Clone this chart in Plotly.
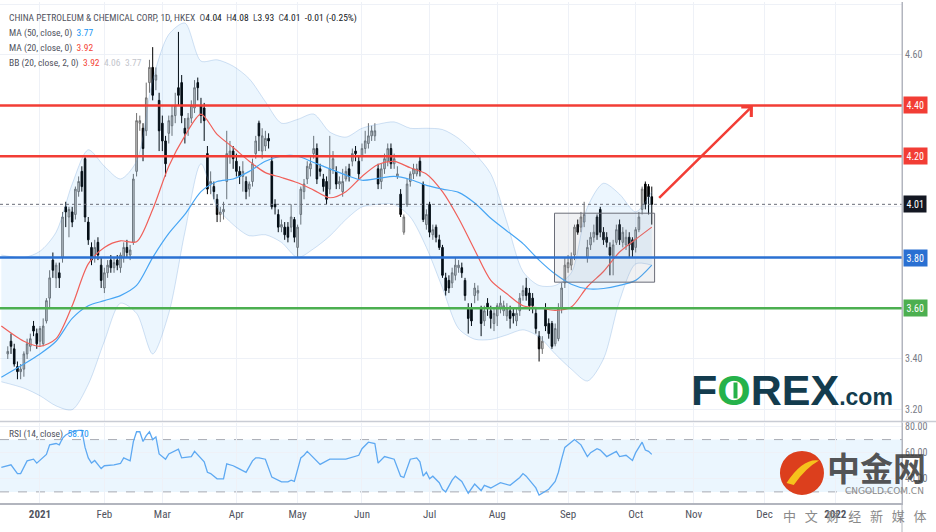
import pandas as pd
import plotly.graph_objects as go

# ---------------- data ----------------
holidays = ["2020-12-25", "2021-01-01", "2021-02-12", "2021-02-15", "2021-04-02", "2021-04-05",
            "2021-04-06", "2021-05-19", "2021-06-14", "2021-07-01", "2021-09-22", "2021-10-01",
            "2021-10-13", "2021-10-14", "2021-12-27"]

dates = [d.strftime("%Y-%m-%d") for d in pd.bdate_range("2020-12-17", "2021-10-11")
         if d.strftime("%Y-%m-%d") not in holidays]

open_ = [
    3.42, 3.47, 3.44, 3.37, 3.35, 3.36, 3.42, 3.45, 3.53, 3.50,
    3.47, 3.46, 3.55, 3.64, 3.79, 3.72, 3.74, 3.80, 4.00, 3.96, 3.98, 3.97, 4.06, 4.14, 4.19, 3.94, 3.84, 3.80, 3.86, 3.77,
    3.68, 3.74, 3.79, 3.76, 3.79, 3.76, 3.80, 3.84, 3.81, 3.86, 4.14, 4.33, 4.31, 4.30, 4.49, 4.55, 4.50, 4.42,
    4.33, 4.26, 4.29, 4.32, 4.36, 4.47, 4.49, 4.31, 4.31, 4.35, 4.39, 4.49, 4.40, 4.39, 4.21, 4.09, 4.08, 4.03, 3.97, 3.98, 4.10, 4.20, 4.22,
    4.18, 4.14, 4.12, 4.10, 4.07, 4.10, 4.21, 4.33, 4.22, 4.24, 4.27, 4.18, 4.01, 3.97, 3.92, 3.92, 3.92, 3.92, 3.95,
    3.84, 3.97, 4.06, 4.11, 4.15, 4.21, 4.23, 4.15, 4.11, 4.10, 4.07, 4.15, 4.14, 4.09, 4.06, 4.11, 4.15, 4.18, 4.22, 4.18,
    4.20, 4.23, 4.25, 4.28, 4.28, 4.15, 4.10, 4.15, 4.18, 4.23, 4.17, 4.12, 4.05, 3.90, 4.01, 4.10, 4.13, 4.13, 4.18, 4.09, 3.93,
    4.01, 3.89, 3.92, 3.87, 3.84, 3.72, 3.71, 3.70, 3.73, 3.76, 3.76, 3.71, 3.60, 3.60, 3.65, 3.66, 3.60, 3.55, 3.62, 3.59, 3.54,
    3.57, 3.60, 3.59, 3.57, 3.59, 3.58, 3.55, 3.59, 3.65, 3.68, 3.66, 3.64, 3.58, 3.49, 3.44, 3.60, 3.54, 3.54, 3.46, 3.48, 3.60, 3.70,
    3.76, 3.77, 3.81, 3.93, 3.92, 3.94, 3.80, 3.85, 3.88, 3.96, 3.99, 3.90, 3.88, 3.84, 3.80, 3.86, 3.93, 3.86, 3.85, 3.88, 3.87,
    3.84, 3.91, 3.99, 4.09, 4.08, 4.04,
]
high = [
    3.45, 3.50, 3.46, 3.39, 3.38, 3.43, 3.48, 3.50, 3.55, 3.52,
    3.53, 3.56, 3.64, 3.75, 3.82, 3.78, 3.78, 3.98, 4.02, 4.00, 4.00, 4.08, 4.12, 4.16, 4.20, 3.96, 3.86, 3.87, 3.88, 3.80,
    3.76, 3.79, 3.81, 3.80, 3.81, 3.82, 3.86, 3.87, 3.85, 4.13, 4.37, 4.36, 4.33, 4.49, 4.58, 4.63, 4.55, 4.45,
    4.36, 4.28, 4.36, 4.40, 4.45, 4.69, 4.52, 4.35, 4.37, 4.42, 4.50, 4.51, 4.43, 4.41, 4.24, 4.14, 4.10, 4.05, 4.00, 4.02, 4.30, 4.26, 4.24,
    4.21, 4.16, 4.18, 4.12, 4.10, 4.19, 4.28, 4.34, 4.31, 4.30, 4.29, 4.20, 4.03, 3.99, 3.95, 3.94, 3.94, 4.01, 3.96,
    3.93, 4.08, 4.11, 4.18, 4.20, 4.28, 4.25, 4.17, 4.13, 4.12, 4.28, 4.22, 4.16, 4.12, 4.15, 4.16, 4.17, 4.23, 4.24, 4.20,
    4.25, 4.30, 4.33, 4.32, 4.33, 4.17, 4.17, 4.21, 4.25, 4.25, 4.21, 4.16, 4.07, 3.97, 4.11, 4.14, 4.17, 4.17, 4.20, 4.10, 3.99,
    4.02, 3.93, 3.93, 3.89, 3.85, 3.74, 3.73, 3.76, 3.80, 3.79, 3.78, 3.72, 3.62, 3.62, 3.70, 3.69, 3.61, 3.61, 3.64, 3.61, 3.60,
    3.62, 3.65, 3.63, 3.62, 3.61, 3.60, 3.60, 3.66, 3.69, 3.72, 3.68, 3.66, 3.60, 3.51, 3.49, 3.62, 3.56, 3.55, 3.54, 3.62, 3.70, 3.80,
    3.81, 3.82, 3.93, 3.95, 3.98, 4.02, 3.87, 3.90, 3.93, 3.97, 4.00, 3.92, 3.90, 3.86, 3.87, 3.93, 3.95, 3.92, 3.91, 3.90, 3.88,
    3.92, 3.98, 4.08, 4.10, 4.09, 4.08,
]
low = [
    3.40, 3.42, 3.37, 3.32, 3.32, 3.33, 3.40, 3.43, 3.49, 3.44,
    3.45, 3.45, 3.54, 3.60, 3.72, 3.68, 3.68, 3.78, 3.92, 3.88, 3.92, 3.95, 4.04, 4.06, 3.94, 3.85, 3.77, 3.78, 3.79, 3.68,
    3.66, 3.72, 3.74, 3.74, 3.75, 3.74, 3.78, 3.80, 3.79, 3.85, 4.12, 4.30, 4.18, 4.28, 4.45, 4.42, 4.46, 4.22,
    4.22, 4.12, 4.25, 4.28, 4.33, 4.40, 4.33, 4.25, 4.28, 4.33, 4.37, 4.42, 4.33, 4.26, 4.05, 4.05, 4.03, 3.94, 3.94, 3.95, 4.03, 4.17, 4.15,
    4.12, 4.09, 4.06, 4.03, 4.04, 4.08, 4.19, 4.22, 4.19, 4.22, 4.23, 3.99, 3.97, 3.90, 3.90, 3.87, 3.86, 3.90, 3.86,
    3.80, 3.93, 4.03, 4.09, 4.12, 4.19, 4.09, 4.12, 4.06, 4.01, 4.05, 4.13, 4.07, 4.07, 4.04, 4.10, 4.10, 4.16, 4.18, 4.11,
    4.18, 4.21, 4.23, 4.26, 4.26, 4.07, 4.07, 4.13, 4.16, 4.15, 4.15, 4.11, 3.96, 3.89, 4.00, 4.08, 4.11, 4.12, 4.12, 3.94, 3.91,
    3.88, 3.87, 3.86, 3.83, 3.72, 3.65, 3.66, 3.68, 3.71, 3.74, 3.72, 3.63, 3.50, 3.53, 3.62, 3.63, 3.49, 3.53, 3.57, 3.52, 3.51,
    3.53, 3.58, 3.57, 3.55, 3.52, 3.54, 3.53, 3.57, 3.63, 3.63, 3.59, 3.58, 3.50, 3.39, 3.42, 3.51, 3.48, 3.44, 3.45, 3.47, 3.58, 3.68,
    3.74, 3.75, 3.79, 3.89, 3.90, 3.92, 3.78, 3.83, 3.86, 3.87, 3.88, 3.85, 3.84, 3.73, 3.73, 3.85, 3.85, 3.84, 3.83, 3.80, 3.80,
    3.82, 3.90, 3.97, 3.99, 3.97, 3.93,
]
close = [
    3.43, 3.45, 3.38, 3.35, 3.36, 3.42, 3.46, 3.48, 3.51, 3.46,
    3.52, 3.53, 3.63, 3.72, 3.75, 3.77, 3.72, 3.96, 3.98, 3.99, 3.94, 4.07, 4.10, 4.08, 3.96, 3.87, 3.79, 3.84, 3.81, 3.71,
    3.74, 3.77, 3.76, 3.78, 3.77, 3.81, 3.84, 3.82, 3.83, 4.11, 4.34, 4.34, 4.23, 4.43, 4.55, 4.44, 4.52, 4.30,
    4.26, 4.17, 4.34, 4.36, 4.40, 4.44, 4.36, 4.29, 4.35, 4.40, 4.47, 4.47, 4.36, 4.34, 4.07, 4.10, 4.06, 3.97, 3.98, 3.99, 4.21, 4.22, 4.19,
    4.14, 4.12, 4.14, 4.06, 4.09, 4.17, 4.26, 4.28, 4.28, 4.27, 4.26, 4.00, 4.00, 3.92, 3.93, 3.89, 3.88, 3.96, 3.88,
    3.92, 4.07, 4.09, 4.16, 4.17, 4.23, 4.11, 4.14, 4.08, 4.03, 4.15, 4.19, 4.09, 4.10, 4.10, 4.14, 4.12, 4.21, 4.21, 4.13,
    4.23, 4.26, 4.28, 4.30, 4.30, 4.09, 4.15, 4.19, 4.23, 4.17, 4.19, 4.13, 3.97, 3.96, 4.09, 4.13, 4.15, 4.15, 4.14, 3.95, 3.97,
    3.90, 3.91, 3.88, 3.84, 3.73, 3.67, 3.68, 3.74, 3.77, 3.77, 3.74, 3.65, 3.56, 3.55, 3.68, 3.67, 3.54, 3.59, 3.60, 3.56, 3.58,
    3.61, 3.62, 3.61, 3.60, 3.56, 3.57, 3.58, 3.64, 3.67, 3.65, 3.61, 3.61, 3.52, 3.44, 3.47, 3.53, 3.50, 3.45, 3.52, 3.60, 3.68, 3.77,
    3.78, 3.80, 3.92, 3.90, 3.96, 3.97, 3.84, 3.88, 3.90, 3.89, 3.90, 3.87, 3.86, 3.81, 3.85, 3.91, 3.87, 3.90, 3.88, 3.85, 3.83,
    3.91, 3.96, 4.07, 4.01, 4.04, 4.01,
]

ma_dates = ["2020-12-15", "2020-12-24", "2021-01-04", "2021-01-11", "2021-01-18", "2021-01-25", "2021-02-01",
            "2021-02-08", "2021-02-17", "2021-02-24", "2021-03-03", "2021-03-10", "2021-03-17", "2021-03-24",
            "2021-03-31", "2021-04-12", "2021-04-19", "2021-04-26", "2021-05-03", "2021-05-10", "2021-05-17",
            "2021-05-25", "2021-06-01", "2021-06-08", "2021-06-16", "2021-06-23", "2021-06-30", "2021-07-08",
            "2021-07-15", "2021-07-22", "2021-07-29", "2021-08-05", "2021-08-12", "2021-08-19", "2021-08-26",
            "2021-09-02", "2021-09-09", "2021-09-16", "2021-09-24", "2021-10-04", "2021-10-11"]
ma50 = [3.328, 3.38, 3.42, 3.47, 3.56, 3.61, 3.63, 3.65, 3.69, 3.80, 3.895, 3.97, 4.06, 4.10, 4.11, 4.14,
        4.18, 4.20, 4.20, 4.175, 4.15, 4.125, 4.105, 4.112, 4.12, 4.108, 4.085, 4.07, 4.057, 4.015, 3.955,
        3.905, 3.855, 3.79, 3.735, 3.695, 3.677, 3.678, 3.69, 3.71, 3.77]
ma20 = [3.53, 3.47, 3.45, 3.48, 3.61, 3.775, 3.84, 3.866, 3.862, 3.99, 4.16, 4.28, 4.366, 4.286, 4.234, 4.18,
        4.135, 4.116, 4.095, 4.066, 4.036, 4.06, 4.12, 4.167, 4.179, 4.154, 4.13, 4.06, 3.955, 3.83, 3.71,
        3.657, 3.61, 3.602, 3.592, 3.605, 3.685, 3.745, 3.822, 3.872, 3.92]
bb_upper = [3.81, 3.80, 3.825, 3.90, 4.09, 4.225, 4.16, 4.11, 4.18, 4.50, 4.68, 4.725, 4.575, 4.58, 4.555,
            4.505, 4.415, 4.33, 4.345, 4.366, 4.295, 4.275, 4.31, 4.326, 4.335, 4.31, 4.31, 4.305, 4.27, 4.21,
            4.13, 3.94, 3.745, 3.69, 3.69, 3.74, 3.998, 4.093, 4.05, 3.98, 4.06]
bb_lower = [3.31, 3.285, 3.255, 3.215, 3.20, 3.30, 3.47, 3.62, 3.58, 3.42, 3.58, 3.90, 4.17, 4.00, 3.93,
            3.886, 3.89, 3.86, 3.80, 3.835, 3.885, 3.95, 4.00, 4.01, 4.01, 3.96, 3.84, 3.68, 3.52, 3.478,
            3.477, 3.495, 3.515, 3.487, 3.42, 3.36, 3.313, 3.40, 3.63, 3.775, 3.77]

rsi_dates = ["2020-12-15", "2020-12-18", "2020-12-22", "2020-12-23", "2020-12-28", "2020-12-30", "2020-12-31",
             "2021-01-05", "2021-01-06", "2021-01-07", "2021-01-11", "2021-01-12", "2021-01-13", "2021-01-14",
             "2021-01-18", "2021-01-20", "2021-01-21", "2021-01-22", "2021-01-25", "2021-01-26", "2021-01-27",
             "2021-01-29", "2021-02-01", "2021-02-04", "2021-02-08", "2021-02-09", "2021-02-11", "2021-02-16",
             "2021-02-17", "2021-02-18", "2021-02-19", "2021-02-22", "2021-02-23", "2021-02-24", "2021-02-25",
             "2021-02-26", "2021-03-01", "2021-03-02", "2021-03-03", "2021-03-08", "2021-03-09", "2021-03-12",
             "2021-03-15", "2021-03-17", "2021-03-18", "2021-03-19", "2021-03-22", "2021-03-24", "2021-03-26",
             "2021-03-29", "2021-03-30", "2021-03-31", "2021-04-01", "2021-04-08", "2021-04-09", "2021-04-13",
             "2021-04-14", "2021-04-15", "2021-04-19", "2021-04-21", "2021-04-26", "2021-04-28", "2021-04-29",
             "2021-04-30", "2021-05-03", "2021-05-04", "2021-05-05", "2021-05-06", "2021-05-12", "2021-05-17",
             "2021-05-25", "2021-05-31", "2021-06-01", "2021-06-03", "2021-06-07", "2021-06-08", "2021-06-10",
             "2021-06-16", "2021-06-18", "2021-06-21", "2021-06-23", "2021-06-25", "2021-06-28", "2021-06-29",
             "2021-06-30", "2021-07-02", "2021-07-05", "2021-07-07", "2021-07-08", "2021-07-09", "2021-07-13",
             "2021-07-14", "2021-07-16", "2021-07-20", "2021-07-22", "2021-07-26", "2021-07-27", "2021-07-29",
             "2021-08-03", "2021-08-06", "2021-08-11", "2021-08-12", "2021-08-13", "2021-08-16", "2021-08-18",
             "2021-08-19", "2021-08-24", "2021-08-26", "2021-08-27", "2021-08-30", "2021-08-31", "2021-09-03",
             "2021-09-07", "2021-09-09", "2021-09-10", "2021-09-14", "2021-09-15", "2021-09-17", "2021-09-23",
             "2021-09-24", "2021-09-28", "2021-09-30", "2021-10-04", "2021-10-06", "2021-10-07", "2021-10-08",
             "2021-10-11"]
rsi_values = [48.7, 50.7, 44, 44, 53.7, 55, 52,
              56, 58.7, 66, 67, 66, 71, 73.5,
              76, 77, 77, 64, 56, 52, 54,
              47.8, 50, 50.7, 51.7, 56, 53.7, 68.5,
              76, 76, 68.5, 73, 76, 70, 72,
              59, 57, 55, 59, 62.6, 56, 57,
              61, 56, 53, 45, 44, 40, 40,
              51.5, 51, 50, 48.7, 46, 45, 53.7,
              56, 56, 55, 41.3, 37.7, 37.7, 39,
              38, 47, 56, 58, 61, 51, 55,
              55, 58, 63, 68, 67, 52, 57,
              55, 42, 41, 55, 56, 53, 42,
              45, 40, 42, 37, 32, 30, 39,
              42, 38, 29, 36, 31, 35, 33,
              37, 35, 41, 44, 42, 39, 33,
              27.5, 32, 38, 45, 55, 64, 70,
              66, 57, 60, 63, 62, 57, 61,
              57, 58, 54, 60, 68, 62, 61,
              58.7]

tick_dates = ["2021-01-04", "2021-02-01", "2021-03-01", "2021-04-01", "2021-05-03", "2021-06-01", "2021-07-02",
              "2021-08-02", "2021-09-01", "2021-10-04", "2021-11-01", "2021-12-01", "2022-01-03"]
tick_labels = ["<b>2021</b>", "Feb", "Mar", "Apr", "May", "Jun", "Jul", "Aug", "Sep", "Oct", "Nov", "Dec", "<b>2022</b>"]

levels = [4.40, 4.20, 3.80, 3.60]
level_colors = ["#f23d35", "#f23d35", "#2a70d2", "#4caf50"]
last_price = 4.01

# ---------------- figure ----------------
n = min(len(dates), len(open_), len(high), len(low), len(close))
FONT = "Roboto Condensed, Roboto, sans-serif"
x_range = ["2020-12-14 14:00", "2022-01-31 17:00"]
rbreaks = [dict(bounds=["sat", "mon"]), dict(values=holidays)]

fig = go.Figure()
band_line = dict(color="rgba(110,160,215,0.3)", width=1, shape="spline", smoothing=0.8)
fig.add_trace(go.Scatter(x=ma_dates, y=bb_upper, mode="lines", line=band_line, hoverinfo="skip"))
fig.add_trace(go.Scatter(x=ma_dates, y=bb_lower, mode="lines", line=band_line, fill="tonexty",
                         fillcolor="rgba(33,150,243,0.085)", hoverinfo="skip"))
fig.add_trace(go.Candlestick(
    x=dates[:n], open=open_[:n], high=high[:n], low=low[:n], close=close[:n],
    increasing=dict(line=dict(color="#707070", width=1), fillcolor="#d2d2d2"),
    decreasing=dict(line=dict(color="#000000", width=1), fillcolor="#000000"),
    whiskerwidth=0, hoverinfo="skip"))
fig.add_trace(go.Scatter(x=ma_dates, y=ma20, mode="lines",
                         line=dict(color="#f0605a", width=1.2, shape="spline", smoothing=0.8)))
fig.add_trace(go.Scatter(x=ma_dates, y=ma50, mode="lines",
                         line=dict(color="#48a6f4", width=1.2, shape="spline", smoothing=0.8)))
fig.add_trace(go.Scatter(x=rsi_dates, y=rsi_values, mode="lines", xaxis="x2", yaxis="y2",
                         line=dict(color="#5ea9f2", width=1.3)))

shapes = []
shapes.append(dict(type="rect", xref="x2 domain", yref="y2", x0=0, x1=1, y0=30, y1=70,
                   fillcolor="rgba(33,150,243,0.09)", line=dict(width=0), layer="below"))
for lv in (30, 70):
    shapes.append(dict(type="line", xref="x2 domain", yref="y2", x0=0, x1=1, y0=lv, y1=lv,
                       line=dict(color="#a8abb3", width=1, dash="dash"), layer="below"))
shapes.append(dict(type="line", xref="x domain", yref="y", x0=0, x1=1, y0=last_price, y1=last_price,
                   line=dict(color="#6a6d78", width=1, dash="dot")))
shapes.append(dict(type="rect", xref="x", yref="y", x0="2021-08-25 19:00", x1="2021-10-11 21:00",
                   y0=3.703, y1=3.975, fillcolor="rgba(140,145,160,0.13)",
                   line=dict(color="#6a6d78", width=1)))
for lv, col in zip(levels, level_colors):
    shapes.append(dict(type="line", xref="x domain", yref="y", x0=0, x1=1, y0=lv, y1=lv,
                       line=dict(color=col, width=2.5)))
shapes.append(dict(type="line", xref="paper", yref="paper", x0=0, x1=1.04, y0=0.1625, y1=0.1625,
                   line=dict(color="#c9ccd4", width=1.5)))
shapes.append(dict(type="line", xref="paper", yref="paper", x0=1, x1=1, y0=-0.06, y1=1,
                   line=dict(color="#b2b5be", width=1)))
# watermark circle logo
shapes.append(dict(type="circle", xref="paper", yref="paper", x0=0.8647, x1=0.9135, y0=0.016, y1=0.104,
                   fillcolor="#dc3f1d", line=dict(width=0)))
shapes.append(dict(type="path", xref="paper", yref="paper",
                   path="M 0.872,0.040 Q 0.890,0.090 0.908,0.085 Q 0.893,0.070 0.880,0.036 Z",
                   fillcolor="#f6c21c", line=dict(width=0)))
# bar inside the green "O" of the FOREX logo
shapes.append(dict(type="line", xref="paper", yref="paper", x0=735.5 / 902, x1=735.5 / 902,
                   y0=(503 - 398) / 503, y1=(503 - 382) / 503, line=dict(color="#25b24a", width=4)))

ann = []
GRAY = "#50535e"


def legend_line(text, ypx):
    ann.append(dict(xref="paper", yref="paper", x=7 / 902, y=(503 - ypx) / 503, xanchor="left",
                    yanchor="middle", showarrow=False, text=text, align="left",
                    font=dict(family=FONT, size=9.5, color=GRAY)))


legend_line("CHINA PETROLEUM &amp; CHEMICAL CORP, 1D, HKEX&nbsp;&nbsp;"
            "O<span style='color:#131722'>4.04</span>&nbsp;&nbsp;H<span style='color:#131722'>4.08</span>&nbsp;&nbsp;"
            "L<span style='color:#131722'>3.93</span>&nbsp;&nbsp;C<span style='color:#131722'>4.01</span>&nbsp;&nbsp;"
            "<span style='color:#131722'>-0.01 (-0.25%)</span>", 16)
legend_line("MA (50, close, 0)&nbsp;&nbsp;<span style='color:#2196f3'>3.77</span>", 31)
legend_line("MA (20, close, 0)&nbsp;&nbsp;<span style='color:#f44336'>3.92</span>", 46)
legend_line("BB (20, close, 2, 0)&nbsp;&nbsp;<span style='color:#f44336'>3.92</span>&nbsp;&nbsp;"
            "<span style='color:#c3c5cc'>4.06</span>&nbsp;&nbsp;<span style='color:#c3c5cc'>3.77</span>", 61)
legend_line("RSI (14, close)&nbsp;&nbsp;<span style='color:#2196f3'>58.70</span>", 434)

for lv, col in list(zip(levels, level_colors)) + [(last_price, "#131722")]:
    ann.append(dict(xref="paper", yref="y", x=1, y=lv, xanchor="left", yanchor="middle", xshift=1,
                    showarrow=False, text=f"{lv:.2f}", bgcolor=col, borderpad=2.5,
                    font=dict(family=FONT, size=10, color="white")))

ann.append(dict(xref="x", yref="y", axref="x", ayref="y", x="2021-11-25 10:00", y=4.40,
                ax="2021-10-12 20:00", ay=4.03, showarrow=True, arrowhead=4, arrowsize=1.1,
                arrowwidth=2.5, arrowcolor="#f23d35", text=""))

ann.append(dict(xref="paper", yref="paper", x=689 / 902, y=(503 - 390) / 503, xanchor="left", yanchor="middle",
                showarrow=False,
                text="<b>F<span style='color:#25b24a'>O</span>REX<span style='font-size:23px'>.com</span></b>",
                font=dict(family="Liberation Sans, Arial, sans-serif", size=43, color="#133c4e")))

ann.append(dict(xref="paper", yref="paper", x=825 / 902, y=(503 - 467) / 503, xanchor="left", yanchor="middle",
                showarrow=False, text="<b>中金网</b>",
                font=dict(family="Noto Sans CJK SC", size=33, color="rgba(55,55,55,0.85)")))
ann.append(dict(xref="paper", yref="paper", x=884 / 902, y=(503 - 491) / 503, xanchor="center", yanchor="middle",
                showarrow=False, text="CNGOLD.COM.CN",
                font=dict(family="DejaVu Sans, sans-serif", size=9, color="#8a8a8a")))
ann.append(dict(xref="paper", yref="paper", x=854 / 902, y=(503 - 516) / 503, xanchor="center", yanchor="middle",
                showarrow=False,
                text="&nbsp;&nbsp;&nbsp;".join(["中", "文", "财", "经", "新", "媒", "体"]),
                font=dict(family="Noto Sans CJK SC", size=13, color="#8a8a8a")))

fig.update_layout(
    width=936, height=532, margin=dict(l=0, r=34, t=0, b=29),
    paper_bgcolor="white", plot_bgcolor="white", showlegend=False,
    font=dict(family=FONT, color=GRAY),
    shapes=shapes, annotations=ann,
    xaxis=dict(domain=[0, 1], anchor="y", range=x_range, rangebreaks=rbreaks,
               rangeslider=dict(visible=False), showticklabels=False, tickvals=tick_dates,
               showgrid=True, gridcolor="#eef1f7", zeroline=False, showline=False),
    xaxis2=dict(domain=[0, 1], anchor="y2", range=x_range, rangebreaks=rbreaks, tickvals=tick_dates,
                ticktext=tick_labels, showgrid=True, gridcolor="#eef1f7", zeroline=False,
                showline=True, linecolor="#b2b5be", linewidth=2, ticks="",
                tickfont=dict(family=FONT, size=11, color=GRAY)),
    yaxis=dict(domain=[0.1645, 1], anchor="x", side="right", range=[3.157, 4.808],
               tickvals=[3.2, 3.4, 3.6, 3.8, 4.0, 4.2, 4.4, 4.6, 4.8],
               ticktext=["3.20", "3.40", "", "", "", "", "", "4.60", ""],
               showgrid=True, gridcolor="#eef1f7", zeroline=False, showline=True,
               linecolor="#b2b5be", linewidth=1, ticks="",
               tickfont=dict(family=FONT, size=10, color="#787b86")),
    yaxis2=dict(domain=[0, 0.1605], anchor="x2", side="right", range=[21.5, 83],
                tickvals=[40, 60, 80], ticktext=["40.00", "60.00", "80.00"],
                showgrid=True, gridcolor="#eef1f7", zeroline=False, showline=True,
                linecolor="#b2b5be", linewidth=1, ticks="",
                tickfont=dict(family=FONT, size=10, color="#787b86")),
)

fig.write_html("out.html", config={"displayModeBar": False},
               post_script="document.body.style.margin='0px';")
